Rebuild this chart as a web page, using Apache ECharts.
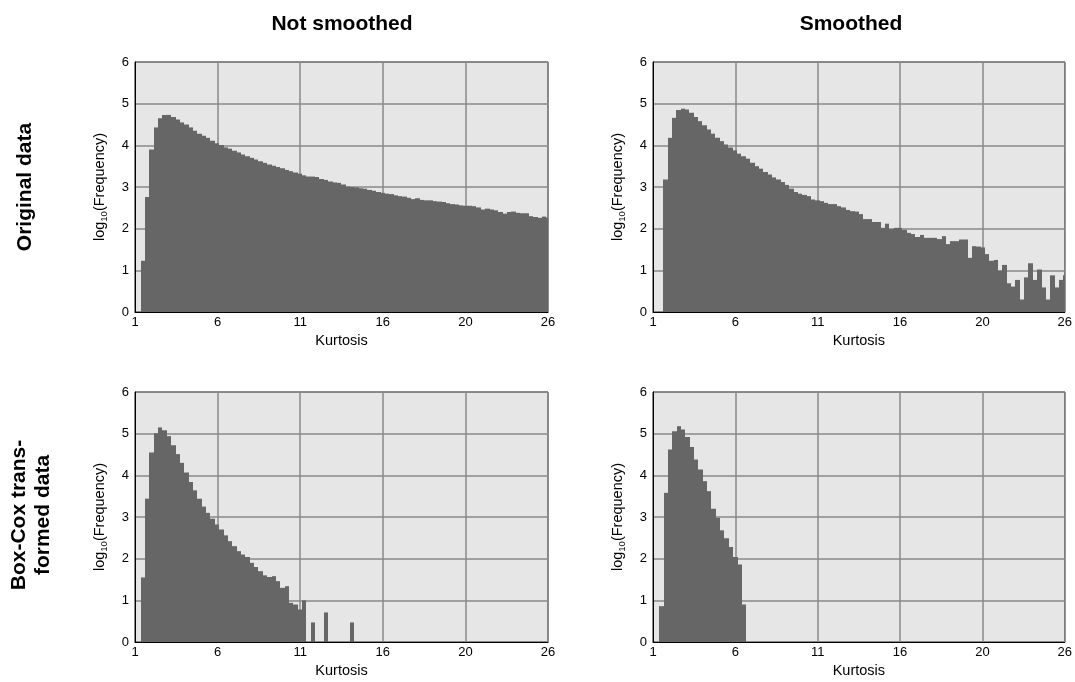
<!DOCTYPE html>
<html><head><meta charset="utf-8">
<script src="https://cdn.jsdelivr.net/npm/echarts@6/dist/echarts.min.js"></script>
<style>html,body{margin:0;padding:0;background:#fff}#c{width:1075px;height:682px}</style>
</head><body><div id="c"></div>
<script>
// ---- data ----
const xTickLabels = ['1', '6', '11', '16', '20', '26'];
const yTickLabels = ['0', '1', '2', '3', '4', '5', '6'];
const columnTitles = ['Not smoothed', 'Smoothed'];
const rowTitles = ['Original data', 'Box-Cox trans-\nformed data'];
const xAxisTitle = 'Kurtosis';
const binWidth = 0.264;           // kurtosis units per histogram bin
const originalStart = 1.343;      // first bin start, original / not smoothed
const originalSmoothStart = 1.62; // first bin start, original / smoothed
const boxcoxStart = 1.343;        // first bin start, Box-Cox / not smoothed
const boxcoxSmoothStart = 1.381;  // first bin start, Box-Cox / smoothed

const originalRaw = [1.23,2.76,3.90,4.43,4.65,4.73,4.73,4.68,4.62,4.55,4.50,4.43,4.35,4.28,
  4.23,4.18,4.11,4.05,4.01,3.95,3.92,3.87,3.83,3.78,3.74,3.70,3.66,3.62,3.58,3.54,3.51,3.48,
  3.45,3.41,3.38,3.35,3.32,3.28,3.25,3.25,3.24,3.19,3.17,3.13,3.11,3.10,3.06,3.01,3.00,2.99,
  2.97,2.96,2.93,2.91,2.88,2.86,2.84,2.83,2.80,2.78,2.77,2.74,2.71,2.73,2.69,2.68,2.68,2.66,
  2.65,2.64,2.61,2.59,2.58,2.56,2.55,2.55,2.54,2.51,2.46,2.48,2.46,2.44,2.40,2.36,2.40,2.41,
  2.38,2.37,2.37,2.30,2.28,2.26,2.29,2.27];
const originalSmooth = [3.18,4.18,4.66,4.85,4.88,4.86,4.78,4.68,4.58,4.48,4.38,4.28,4.18,4.10,
  4.02,3.95,3.88,3.80,3.74,3.68,3.58,3.50,3.44,3.36,3.30,3.23,3.18,3.12,3.05,2.96,2.88,2.84,
  2.81,2.78,2.70,2.68,2.66,2.62,2.59,2.59,2.54,2.51,2.45,2.42,2.41,2.35,2.23,2.23,2.16,2.16,
  2.02,2.12,1.99,2.02,2.02,1.97,1.90,1.87,1.80,1.85,1.78,1.78,1.78,1.75,1.82,1.63,1.70,1.70,
  1.74,1.74,1.30,1.58,1.57,1.55,1.39,1.23,1.25,0.99,1.13,0.69,0.61,0.77,0.30,0.83,1.17,0.77,
  1.02,0.59,0.30,0.88,0.59,0.77,0.88];
const boxcoxRaw = [1.55,3.44,4.55,5.01,5.15,5.08,4.94,4.72,4.51,4.30,4.07,3.84,3.64,3.44,3.25,
  3.10,2.96,2.82,2.70,2.56,2.42,2.30,2.18,2.10,2.04,1.90,1.80,1.70,1.60,1.56,1.58,1.46,1.30,
  1.34,0.94,0.90,0.78,1.00,0,0.47,0,0,0.71,0,0,0,0,0,0.47];
const boxcoxSmooth = [0.86,3.58,4.62,5.06,5.18,5.10,4.92,4.68,4.38,4.14,3.86,3.62,3.20,2.98,
  2.68,2.49,2.28,2.04,1.86,0.90];

// ---- chart ----
const FONT = '"Liberation Sans", Arial, Helvetica, sans-serif';
const panels = [
  {values: originalRaw, start: originalStart, left: 135, top: 62},
  {values: originalSmooth, start: originalSmoothStart, left: 653, top: 62},
  {values: boxcoxRaw, start: boxcoxStart, left: 135, top: 392},
  {values: boxcoxSmooth, start: boxcoxSmoothStart, left: 653, top: 392}
];
const X_OFFSET = 1; // axis runs in (kurtosis - 1) so that min is a multiple of interval

function binsOf(values, start) {
  return values.map((v, i) => [start + i * binWidth - X_OFFSET, start + (i + 1) * binWidth - X_OFFSET, v]);
}

function renderBar(params, api) {
  const v = api.value(2);
  if (!(v > 0)) return null;
  const p0 = api.coord([api.value(0), v]);
  const p1 = api.coord([api.value(1), 0]);
  const x0 = Math.round(p0[0]), x1 = Math.round(p1[0]);
  const cs = params.coordSys;
  const shape = echarts.graphic.clipRectByRect(
    {x: x0, y: p0[1], width: x1 - x0, height: p1[1] - p0[1]},
    {x: cs.x, y: cs.y, width: cs.width, height: cs.height});
  return shape ? {type: 'rect', shape: shape, style: {fill: '#666666'}} : null;
}

const grid = [], xAxis = [], yAxis = [], series = [];
panels.forEach((p, k) => {
  grid.push({left: p.left, top: p.top, width: 413, height: 250, show: true,
    backgroundColor: '#e6e6e6', borderColor: '#222', borderWidth: 1});
  xAxis.push({gridIndex: k, type: 'value', min: 0, max: 25, interval: 5,
    axisLine: {show: true, onZero: false, lineStyle: {color: '#000', width: 1}},
    axisTick: {show: false},
    axisLabel: {color: '#000', fontSize: 13, fontFamily: FONT, margin: 4,
      formatter: v => xTickLabels[Math.round(v / 5)]},
    splitLine: {show: true, lineStyle: {color: '#888888', width: 1.5}},
    name: xAxisTitle, nameLocation: 'middle', nameGap: 21,
    nameTextStyle: {color: '#000', fontSize: 14.5, fontFamily: FONT}});
  yAxis.push({gridIndex: k, type: 'value', min: 0, max: 6, interval: 1,
    axisLine: {show: true, lineStyle: {color: '#000', width: 1}},
    axisTick: {show: false},
    axisLabel: {color: '#000', fontSize: 13, fontFamily: FONT, margin: 6,
      formatter: v => yTickLabels[Math.round(v)]},
    splitLine: {show: true, lineStyle: {color: '#888888', width: 1.5}},
    name: '{a|log}{s|10}{a|(Frequency)}', nameLocation: 'middle', nameGap: 26,
    nameTextStyle: {color: '#000', fontSize: 14.5, fontFamily: FONT,
      rich: {a: {fontSize: 14.5, color: '#000', fontFamily: FONT, lineHeight: 18},
             s: {fontSize: 9.5, color: '#000', fontFamily: FONT, lineHeight: 18, verticalAlign: 'bottom'}}}});
  series.push({type: 'custom', xAxisIndex: k, yAxisIndex: k, renderItem: renderBar,
    encode: {x: [0, 1], y: 2}, data: binsOf(p.values, p.start), silent: true, animation: false});
});

const titleFont = 'bold 21px ' + FONT;
const graphic = [
  {type: 'text', x: 342, y: 24, style: {text: columnTitles[0], font: titleFont, fill: '#000', align: 'center', verticalAlign: 'middle'}},
  {type: 'text', x: 851, y: 24, style: {text: columnTitles[1], font: titleFont, fill: '#000', align: 'center', verticalAlign: 'middle'}},
  {type: 'text', x: 25, y: 187, rotation: Math.PI / 2, style: {text: rowTitles[0], font: titleFont, fill: '#000', align: 'center', verticalAlign: 'middle'}},
  {type: 'text', x: 31, y: 515, rotation: Math.PI / 2, style: {text: rowTitles[1], font: titleFont, fill: '#000', align: 'center', verticalAlign: 'middle', lineHeight: 24}}
];

const chart = echarts.init(document.getElementById('c'), null, {renderer: 'canvas'});
chart.setOption({animation: false, grid, xAxis, yAxis, series, graphic});
</script>
</body></html>
